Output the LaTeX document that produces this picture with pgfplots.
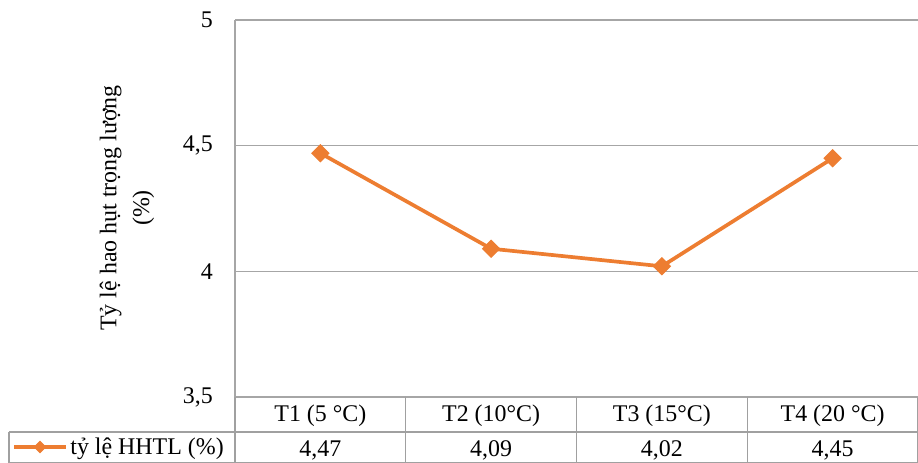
\documentclass[border=0pt]{standalone}
\usepackage{fontspec}
\setmainfont{Liberation Serif}
\usepackage{pgfplots}
\usepackage{pgfplotstable}
\pgfplotsset{compat=1.18}
\pgfkeys{/pgf/number format/.cd, use comma, assume math mode=true}

\definecolor{hhtl}{HTML}{ED7D31}
\definecolor{gridgray}{HTML}{A6A6A6}
\definecolor{tablegray}{HTML}{A0A0A0}

% weight loss ratio (%) per storage temperature
\pgfplotstableread{
x y
1 4.47
2 4.09
3 4.02
4 4.45
}\hhtldata

\newcommand{\chartfont}{\fontsize{24}{33}\selectfont}

\begin{document}
\begin{tikzpicture}[x=1bp,y=1bp]
\useasboundingbox (0,0) rectangle (918,463);
\begin{axis}[
  at={(235bp,66bp)}, anchor=south west,
  scale only axis, width=683bp, height=377bp,
  clip=false,
  xmin=0.5, xmax=4.5, ymin=3.5, ymax=5,
  ytick={3.5,4,4.5,5},
  xtick={1,2,3,4},
  xticklabels={T1 (5 °C), T2 (10°C), T3 (15°C), T4 (20 °C)},
  axis x line=bottom, axis y line=left,
  axis line style={gridgray, line width=1.4bp, -},
  major tick length=0pt,
  ymajorgrids, grid style={gridgray, line width=1.4bp},
  tick label style={font=\chartfont},
  yticklabel style={anchor=east, inner sep=0pt, xshift=-22bp},
  xticklabel style={anchor=base, inner sep=0pt, yshift=-25bp},
  legend style={at={(rel axis cs:-0.3265,-0.1326)}, anchor=west,
    draw=none, fill=none, font=\chartfont, inner sep=0pt,
    nodes={inner sep=2.5bp}},
  legend image code/.code={
    \draw[#1, mark repeat=2, mark phase=2, mark size=4bp]
      plot coordinates {(0bp,0bp) (26bp,0bp) (52bp,0bp)};},
]
\addplot[hhtl, line width=3.7bp, mark=square*, mark size=6bp,
  mark options={fill=hhtl, draw=hhtl, rotate=45, solid, line width=1bp}]
  table[x=x, y=y]{\hhtldata};
\addlegendentry{tỷ lệ HHTL (\%)}
\end{axis}

% data table grid below the plot
\draw[tablegray, line width=1.4bp]
  (9,31) -- (918,31)
  (9,31) -- (9,0)
  (9,0.6) -- (918,0.6);
\foreach \xv in {235,405.75,576.5,747.25,917.3}
  \draw[tablegray, line width=1.4bp] (\xv,66) -- (\xv,0);

% value row
\foreach \i in {0,...,3}{
  \pgfplotstablegetelem{\i}{y}\of\hhtldata
  \node[anchor=base, inner sep=0pt, font=\chartfont]
    at ({235+170.75*(\i+0.5)}, 6)
    {\pgfmathprintnumber[fixed, precision=2, fixed zerofill]{\pgfplotsretval}};
}

% axis title
\node[rotate=90, align=center, font=\chartfont] at (127,255)
  {Tỷ lệ hao hụt trọng lượng\\(\%)};
\end{tikzpicture}
\end{document}
